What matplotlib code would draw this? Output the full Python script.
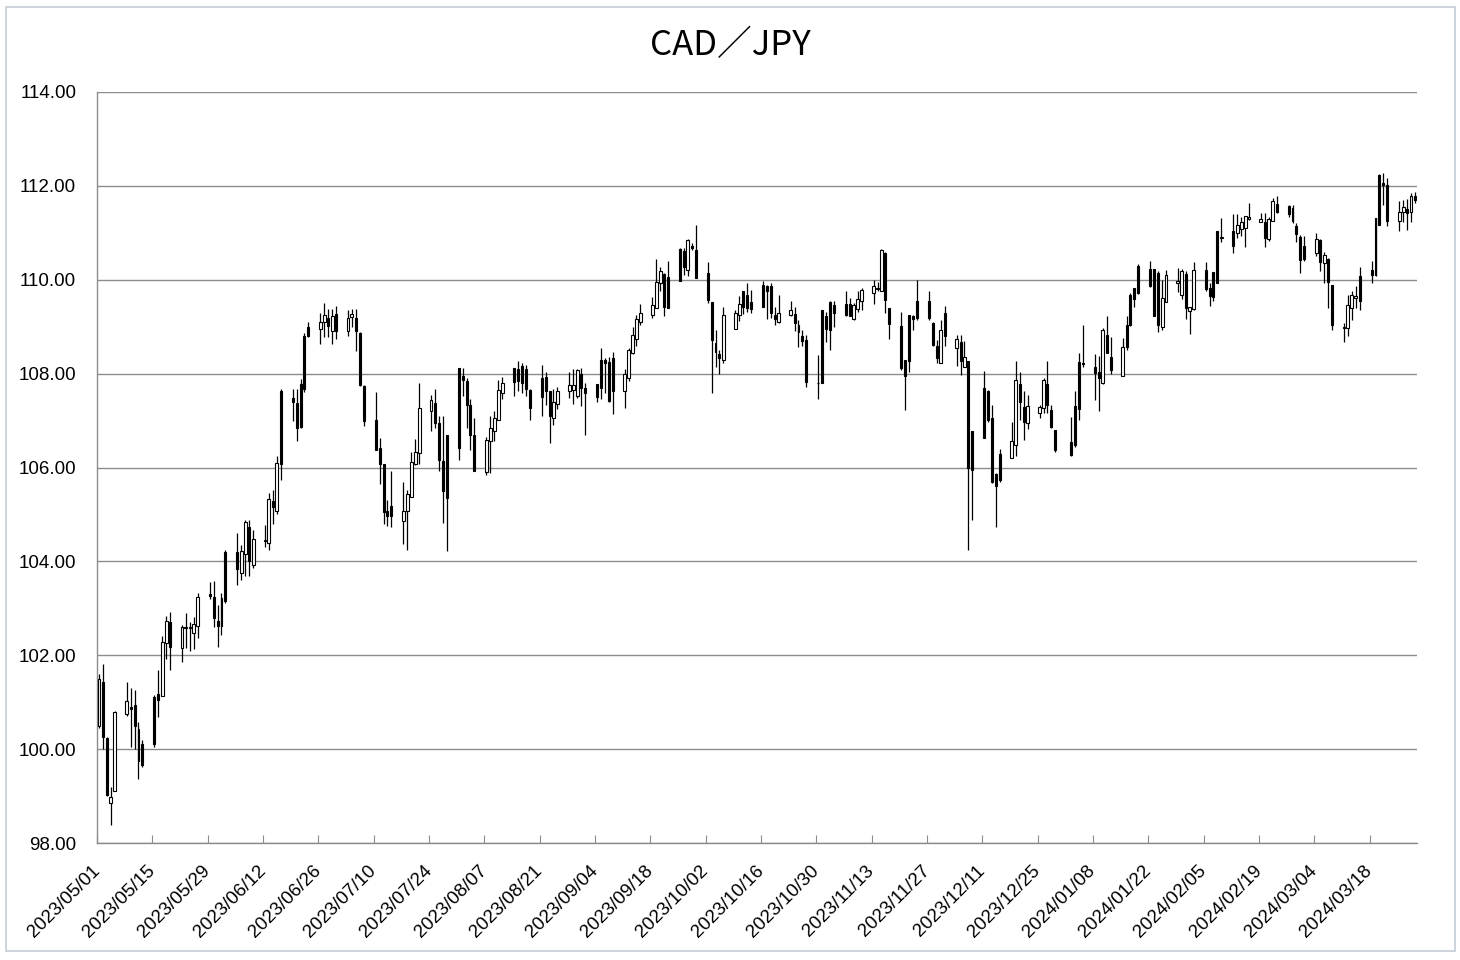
import numpy as np
import pandas as pd
import matplotlib
matplotlib.use('Agg')
import matplotlib.pyplot as plt
import matplotlib.dates as mdates
import matplotlib.transforms as mtransforms
from matplotlib.patches import Rectangle

plt.rcParams['font.family'] = ['Liberation Sans', 'DejaVu Sans']

# daily candles, one line per week (Mon-Fri); 2024/01/01 has no data
open_ = [
    100.49, 101.44, 100.23, 98.86, 99.11,
    100.74, 100.90, 100.95, 100.42, 100.10,
    101.12, 101.17, 101.14, 102.27, 102.70,
    102.16, 102.58, 102.60, 102.48, 102.63,
    103.31, 103.25, 102.72, 103.22, 104.21,
    104.20, 103.75, 104.15, 104.73, 103.93,
    104.44, 104.40, 105.28, 105.07, 107.64,
    107.49, 107.38, 107.77, 108.80, 109.00,
    108.95, 109.11, 109.19, 108.91, 109.27,
    108.91, 109.20, 109.19, 108.87, 107.74,
    107.01, 106.42, 106.07, 105.07, 105.18,
    104.86, 105.07, 105.37, 106.07, 106.30,
    107.20, 107.38, 106.95, 106.14, 106.70,
    108.12, 107.94, 107.84, 107.34, 106.70,
    105.90, 106.56, 106.77, 107.02, 107.59,
    108.12, 108.09, 108.17, 108.10, 107.66,
    107.90, 107.93, 107.62, 107.05, 107.36,
    107.62, 107.66, 107.53, 107.99, 107.69,
    107.77, 108.28, 108.29, 108.24, 108.33,
    107.64, 107.90, 108.45, 108.73, 109.11,
    109.25, 109.40, 109.93, 110.12, 110.05,
    110.65, 110.62, 110.21, 110.71, 110.64,
    110.14, 109.52, 108.65, 108.41, 108.28,
    108.95, 109.25, 109.77, 109.68, 109.52,
    109.89, 109.86, 109.86, 109.25, 109.10,
    109.25, 109.27, 109.03, 108.80, 108.72,
    107.81, 109.35, 109.23, 109.52, 109.47,
    109.48, 109.48, 109.16, 109.37, 109.54,
    109.72, 109.80, 109.75, 110.57, 109.40,
    109.02, 108.29, 109.25, 109.22, 109.55,
    109.54, 109.08, 108.59, 108.23, 109.30,
    108.55, 108.67, 108.14, 108.26, 106.77,
    107.69, 107.62, 107.05, 105.87, 106.29,
    106.21, 106.49, 107.78, 107.29, 106.95,
    107.16, 107.27, 107.77, 107.23, 106.80,
    106.55, 107.30, 108.24, 108.22,
    108.15, 108.04, 107.81, 108.83, 108.36,
    107.94, 109.04, 109.68, 109.82, 110.30,
    110.23, 110.23, 110.14, 108.99, 109.52,
    109.93, 109.68, 110.12, 109.33, 109.38,
    110.21, 109.82, 110.16, 111.04, 110.90,
    111.04, 110.99, 111.08, 111.11, 111.30,
    111.24, 111.24, 110.87, 111.26, 111.62,
    111.57, 111.52, 111.15, 110.92, 110.72,
    110.57, 110.85, 110.35, 110.44, 109.89,
    108.99, 108.97, 109.40, 109.62, 110.07,
    110.21, 111.31, 112.23, 112.06, 112.02,
    111.26, 111.44, 111.50, 111.45, 111.79,
]
high = [
    101.60, 101.81, 100.25, 99.20, 100.82,
    101.42, 101.30, 101.27, 100.58, 100.20,
    101.15, 101.69, 102.40, 102.84, 102.92,
    102.65, 102.91, 102.70, 102.82, 103.32,
    103.57, 103.58, 103.08, 103.33, 104.25,
    104.60, 104.34, 104.89, 104.88, 104.67,
    104.78, 105.45, 105.53, 106.24, 107.67,
    107.67, 107.67, 107.88, 108.87, 109.10,
    109.30, 109.51, 109.37, 109.37, 109.44,
    109.36, 109.37, 109.37, 108.89, 107.76,
    107.61, 106.63, 106.07, 105.30, 105.93,
    105.69, 105.53, 106.34, 106.60, 107.81,
    107.54, 107.67, 107.10, 107.10, 106.70,
    108.12, 108.12, 107.91, 107.45, 107.05,
    106.65, 107.09, 107.20, 107.87, 107.93,
    108.12, 108.26, 108.23, 108.19, 107.67,
    108.19, 108.03, 107.62, 107.67, 107.71,
    108.03, 108.10, 108.10, 108.12, 107.80,
    107.77, 108.54, 108.33, 108.36, 108.47,
    108.10, 108.55, 109.00, 109.25, 109.48,
    109.64, 110.44, 110.28, 110.14, 110.41,
    110.68, 110.68, 110.87, 110.78, 111.17,
    110.37, 109.52, 108.93, 108.50, 109.41,
    109.35, 109.66, 109.77, 109.93, 109.79,
    109.98, 109.89, 109.94, 109.43, 109.68,
    109.54, 109.43, 109.15, 108.93, 108.83,
    108.40, 109.36, 109.32, 109.54, 109.54,
    109.75, 109.61, 109.50, 109.75, 109.82,
    110.00, 109.96, 110.65, 110.60, 109.40,
    109.32, 108.29, 109.25, 109.25, 110.00,
    109.75, 109.11, 108.71, 109.15, 109.45,
    108.83, 108.83, 108.69, 108.26, 106.77,
    108.05, 107.66, 107.34, 105.88, 106.39,
    106.98, 108.26, 108.03, 107.64, 107.55,
    107.34, 107.90, 108.26, 107.34, 106.80,
    107.08, 107.62, 108.44, 109.04,
    108.42, 108.38, 108.97, 109.23, 108.78,
    108.76, 109.23, 109.72, 109.82, 110.34,
    110.39, 110.23, 110.18, 110.00, 110.21,
    110.24, 110.23, 110.18, 109.43, 110.37,
    110.38, 109.94, 110.16, 111.04, 111.32,
    111.41, 111.41, 111.33, 111.36, 111.63,
    111.43, 111.43, 111.33, 111.75, 111.79,
    111.60, 111.60, 111.20, 110.96, 110.94,
    110.99, 110.87, 110.60, 110.46, 109.89,
    109.08, 109.68, 109.77, 109.86, 110.28,
    110.39, 111.31, 112.26, 112.27, 112.16,
    111.67, 111.70, 111.72, 111.84, 111.88,
]
low = [
    100.45, 100.01, 99.00, 98.38, 99.11,
    100.71, 100.05, 100.00, 99.37, 99.62,
    100.05, 100.69, 101.14, 101.93, 101.69,
    101.86, 102.15, 102.10, 102.14, 102.36,
    103.20, 102.61, 102.17, 102.44, 103.12,
    103.50, 103.61, 103.68, 103.68, 103.86,
    104.30, 104.24, 104.79, 105.00, 105.73,
    106.99, 106.56, 106.85, 107.60, 108.77,
    108.63, 108.77, 108.77, 108.63, 108.73,
    108.80, 109.00, 108.48, 107.74, 106.88,
    106.38, 105.64, 104.79, 104.75, 104.74,
    104.36, 104.24, 105.37, 106.05, 106.07,
    106.78, 106.85, 105.92, 104.82, 104.22,
    106.16, 107.52, 106.84, 106.38, 105.92,
    105.85, 105.88, 106.56, 107.02, 107.45,
    107.52, 107.62, 107.59, 107.52, 107.02,
    107.09, 107.34, 106.53, 106.91, 107.25,
    107.49, 107.35, 107.49, 107.30, 106.69,
    107.40, 107.46, 107.58, 107.40, 107.14,
    107.26, 107.85, 108.42, 108.58, 109.03,
    109.18, 109.40, 109.75, 109.22, 109.40,
    109.98, 110.10, 110.07, 110.64, 110.04,
    109.50, 107.58, 108.14, 107.99, 108.22,
    108.95, 109.13, 109.27, 109.32, 109.29,
    109.43, 109.16, 109.18, 109.04, 109.08,
    109.22, 108.90, 108.56, 108.59, 107.72,
    107.46, 107.80, 108.68, 108.51, 109.00,
    109.23, 109.22, 109.15, 109.32, 109.35,
    109.49, 109.77, 109.75, 109.29, 108.73,
    108.08, 107.23, 108.04, 108.92, 109.15,
    109.15, 108.58, 108.22, 108.23, 108.58,
    108.16, 107.98, 108.14, 104.24, 104.88,
    106.63, 106.98, 105.67, 104.74, 105.70,
    106.21, 106.24, 107.02, 106.58, 106.82,
    107.05, 107.17, 107.16, 106.84, 106.34,
    106.24, 106.44, 107.01, 108.15,
    107.44, 107.21, 107.78, 108.44, 108.00,
    107.94, 108.51, 109.02, 109.43, 109.70,
    109.84, 109.22, 108.88, 108.93, 109.52,
    109.73, 109.59, 109.16, 108.84, 109.35,
    109.77, 109.45, 109.55, 109.94, 110.80,
    110.58, 110.89, 110.94, 110.69, 111.28,
    111.22, 110.69, 110.83, 111.26, 111.43,
    111.33, 111.20, 110.80, 110.14, 110.41,
    110.50, 110.18, 109.93, 109.40, 108.94,
    108.67, 108.80, 109.15, 109.40, 109.36,
    109.93, 110.08, 111.17, 111.60, 111.15,
    111.03, 111.24, 111.06, 111.24, 111.63,
]
close = [
    101.49, 100.25, 99.02, 98.98, 100.80,
    101.02, 100.85, 100.50, 99.75, 99.66,
    100.10, 101.05, 102.29, 102.72, 102.18,
    102.60, 102.61, 102.57, 102.66, 103.24,
    103.27, 102.79, 102.63, 102.62, 103.15,
    103.83, 104.22, 104.84, 104.00, 104.47,
    104.46, 105.33, 105.16, 106.10, 106.07,
    107.40, 106.85, 106.86, 107.67, 108.80,
    109.11, 109.24, 109.02, 109.22, 108.91,
    109.19, 109.27, 108.91, 107.75, 107.00,
    106.38, 106.07, 105.05, 104.96, 104.96,
    105.07, 105.44, 106.12, 106.34, 107.26,
    107.44, 106.95, 106.17, 105.50, 105.35,
    106.41, 107.87, 107.34, 106.70, 105.92,
    106.59, 106.84, 107.05, 107.66, 107.79,
    107.82, 107.84, 107.80, 107.67, 107.27,
    107.50, 107.62, 107.09, 107.39, 107.64,
    107.75, 107.75, 108.07, 107.70, 107.58,
    107.51, 107.70, 108.22, 107.42, 107.62,
    107.99, 108.51, 108.83, 109.17, 109.29,
    109.47, 109.95, 110.18, 109.41, 109.40,
    109.98, 110.28, 110.85, 110.67, 110.04,
    109.57, 108.71, 108.47, 108.34, 109.25,
    109.29, 109.48, 109.43, 109.40, 109.37,
    109.43, 109.75, 109.29, 109.16, 109.29,
    109.35, 109.08, 108.88, 108.70, 107.83,
    107.79, 107.81, 108.95, 108.92, 109.30,
    109.25, 109.23, 109.47, 109.59, 109.79,
    109.86, 109.82, 110.63, 109.57, 109.06,
    108.12, 107.95, 108.26, 109.17, 109.18,
    109.18, 108.61, 108.33, 108.94, 108.80,
    108.74, 108.26, 108.36, 105.99, 105.95,
    106.63, 107.02, 105.70, 105.60, 105.74,
    106.56, 107.86, 107.39, 106.98, 107.30,
    107.29, 107.87, 107.34, 106.86, 106.38,
    106.27, 106.48, 107.24, 108.20,
    108.02, 107.90, 108.93, 108.45, 108.07,
    108.56, 108.56, 109.04, 109.59, 109.72,
    109.87, 109.23, 109.04, 109.61, 110.11,
    109.97, 110.18, 109.40, 109.43, 110.21,
    109.80, 109.65, 109.64, 109.94, 110.92,
    110.72, 111.17, 111.22, 111.36, 111.34,
    111.30, 110.89, 111.29, 111.67, 111.45,
    111.40, 111.26, 110.98, 110.43, 110.44,
    110.87, 110.37, 110.53, 109.96, 109.04,
    108.97, 109.47, 109.68, 109.65, 109.54,
    110.10, 110.10, 111.17, 112.02, 111.26,
    111.44, 111.54, 111.43, 111.79, 111.70,
]

dates = pd.bdate_range('2023-05-01', '2024-03-29')
dates = dates[dates != pd.Timestamp('2024-01-01')]
tick_dates = pd.date_range('2023-05-01', '2024-03-18', freq='14D')
y_ticks = np.arange(98, 114.1, 2)

o = np.array(open_)
h = np.array(high)
l = np.array(low)
c = np.array(close)
x = mdates.date2num(dates)

W, H = 1460, 960
fig = plt.figure(figsize=(W / 100, H / 100), dpi=100)
ax = fig.add_axes([97 / W, (H - 843) / H, 1320 / W, 751 / H])

# grid lines
for v in y_ticks:
    ax.axhline(v, color='#8c8c8c', lw=1.0, zorder=1)

# candles: white = up, black = down
ax.vlines(x, l, h, color='black', lw=0.9, zorder=2)
bottom = np.minimum(o, c)
height = np.maximum(np.abs(c - o), 0.02)
up = c >= o
ax.bar(x[up], height[up], width=0.72, bottom=bottom[up], color='white',
       edgecolor='black', linewidth=0.8, zorder=3)
ax.bar(x[~up], height[~up], width=0.5, bottom=bottom[~up], color='black',
       edgecolor='black', linewidth=0.8, zorder=3)

ax.set_xlim(x[0] - 0.5, x[-1] + 0.5)
ax.set_ylim(98, 114)
ax.set_yticks(y_ticks)
ax.set_yticklabels([f'{v:.2f}' for v in y_ticks], fontsize=13.5)
ax.set_xticks(mdates.date2num(tick_dates) - 0.5)
ax.set_xticklabels([d.strftime('%Y/%m/%d') for d in tick_dates],
                   rotation=45, ha='right', va='center',
                   rotation_mode='anchor', fontsize=13.5)
shift = mtransforms.ScaledTranslation(4 / 100, 0, fig.dpi_scale_trans)
for lab in ax.get_xticklabels():
    lab.set_transform(lab.get_transform() + shift)

ax.tick_params(axis='x', direction='in', length=6, color='#8c8c8c', pad=18)
ax.tick_params(axis='y', length=0, pad=15)
for side in ['top', 'right']:
    ax.spines[side].set_visible(False)
for side in ['left', 'bottom']:
    ax.spines[side].set_color('#8c8c8c')
    ax.spines[side].set_linewidth(1.0)

fig.text(730 / W, 1 - 46 / H, 'CAD／JPY', ha='center', va='center',
         fontsize=25, family=['Noto Sans CJK JP', 'DejaVu Sans'])

# outer chart frame
fig.patches.append(Rectangle((6 / W, (H - 951) / H), 1449 / W, 944 / H,
                             transform=fig.transFigure, fill=False,
                             edgecolor='#c5ccd4', lw=1.2))

fig.savefig('out.png', dpi=100)
